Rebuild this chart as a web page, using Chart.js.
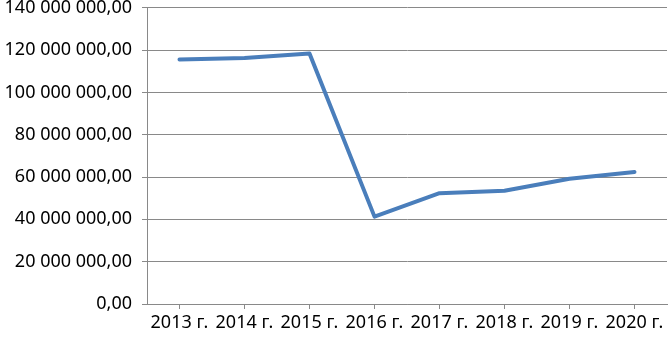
<!DOCTYPE html>
<html>
<head>
<meta charset="utf-8">
<script src="https://cdn.jsdelivr.net/npm/chart.js@4/dist/chart.umd.min.js"></script>
<style>
  html, body { margin: 0; padding: 0; background: #fff; overflow: hidden; }
  #wrap { width: 668px; height: 351px; margin-top: -13px; }
</style>
</head>
<body>
<div id="wrap"><canvas id="lineChart"></canvas></div>
<script>
// data
const years = ['2013 г.', '2014 г.', '2015 г.', '2016 г.', '2017 г.', '2018 г.', '2019 г.', '2020 г.'];
const amounts = [115600000, 116300000, 118400000, 41300000, 52400000, 53500000, 59200000, 62400000];
const yMax = 140000000;
const yStep = 20000000;

// "140 000 000,00" style
function fmt(v) {
    const parts = v.toFixed(2).split('.');
    return parts[0].replace(/\B(?=(\d{3})+(?!\d))/g, ' ') + ',' + parts[1];
}

const labelFont = { family: 'Noto Sans', size: 18 };

new Chart(document.getElementById('lineChart').getContext('2d'), {
    type: 'line',
    data: {
        labels: years,
        datasets: [{
            data: amounts,
            borderColor: '#4a7ebb',
            borderWidth: 4,
            borderJoinStyle: 'round',
            borderCapStyle: 'round',
            pointRadius: 0,
            tension: 0
        }]
    },
    options: {
        responsive: true,
        maintainAspectRatio: false,
        animation: false,
        layout: { padding: { top: 0, right: 1, left: 0, bottom: 0 } },
        plugins: { legend: { display: false }, tooltip: { enabled: false } },
        scales: {
            x: {
                offset: true,
                grid: { drawOnChartArea: false, drawTicks: true, tickLength: 5, color: '#898989' },
                border: { color: '#898989', width: 1 },
                ticks: {
                    autoSkip: false, maxRotation: 0, padding: 3,
                    color: '#000', font: labelFont
                },
                afterFit: function (s) { s.height = 34; }
            },
            y: {
                min: 0,
                max: yMax,
                grid: { color: '#898989', tickLength: 5 },
                border: { color: '#898989', width: 1 },
                ticks: {
                    stepSize: yStep, padding: 10,
                    color: '#000', font: labelFont,
                    callback: fmt
                },
                afterFit: function (s) { s.width = 147; }
            }
        }
    }
});
</script>
</body>
</html>
